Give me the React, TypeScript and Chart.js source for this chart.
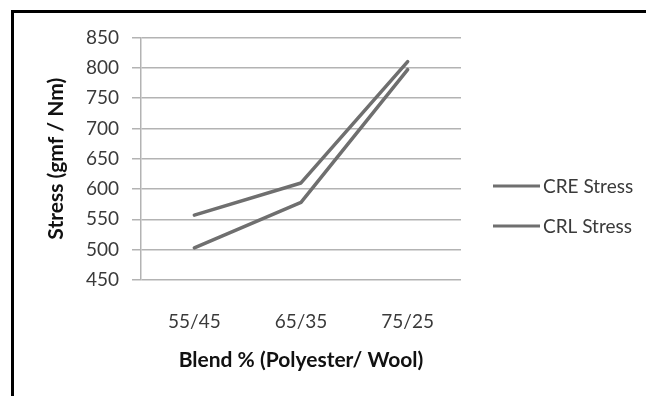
import React, { useEffect, useRef } from "react";
import { Chart, registerables } from "chart.js";

Chart.register(...registerables);

const categories = ["55/45", "65/35", "75/25"];
const creStress = [557, 610, 810];
const crlStress = [503, 578, 797];
const seriesNames = ["CRE Stress", "CRL Stress"];
const yTicks = [450, 500, 550, 600, 650, 700, 750, 800, 850];

const FONT = "Lato, 'Open Sans', sans-serif";
const LINE_COLOR = "#6f6f6f";
const GRID_COLOR = "#b3b3b3";

// Legend drawn to the right of the plot: short line sample followed by the label.
const sideLegend = {
  id: "sideLegend",
  afterDraw(chart: any) {
    const { ctx, chartArea } = chart;
    const x0 = chartArea.right + 32;
    const rows = [173, 213];
    ctx.save();
    chart.data.datasets.forEach((ds: any, i: number) => {
      const y = rows[i];
      ctx.strokeStyle = ds.borderColor;
      ctx.lineWidth = 3;
      ctx.lineCap = "butt";
      ctx.beginPath();
      ctx.moveTo(x0, y);
      ctx.lineTo(x0 + 47, y);
      ctx.stroke();
      ctx.fillStyle = "#3a3a3a";
      ctx.font = `19px ${FONT}`;
      ctx.textBaseline = "middle";
      ctx.textAlign = "left";
      ctx.fillText(ds.label, x0 + 50, y + 1);
    });
    ctx.restore();
  },
};

export default function App() {
  const canvasRef = useRef<HTMLCanvasElement | null>(null);

  useEffect(() => {
    const canvas = canvasRef.current;
    if (!canvas) return;
    const chart = new Chart(canvas, {
      type: "line",
      data: {
        labels: categories,
        datasets: [
          {
            label: seriesNames[0],
            data: creStress,
            borderColor: LINE_COLOR,
            backgroundColor: LINE_COLOR,
            borderWidth: 3.5,
            pointRadius: 0,
            borderCapStyle: "round",
            borderJoinStyle: "round",
            tension: 0,
          },
          {
            label: seriesNames[1],
            data: crlStress,
            borderColor: LINE_COLOR,
            backgroundColor: LINE_COLOR,
            borderWidth: 3.5,
            pointRadius: 0,
            borderCapStyle: "round",
            borderJoinStyle: "round",
            tension: 0,
          },
        ],
      },
      options: {
        animation: false,
        responsive: false,
        maintainAspectRatio: false,
        layout: { padding: { top: 22, right: 185, left: 0, bottom: 0 } },
        plugins: {
          legend: { display: false },
          tooltip: { enabled: false },
        },
        scales: {
          x: {
            offset: true,
            grid: { display: false },
            border: { display: false },
            ticks: {
              color: "#3a3a3a",
              font: { family: FONT, size: 19 },
              padding: 22,
              maxRotation: 0,
            },
            title: {
              display: true,
              text: "Blend % (Polyester/ Wool)",
              color: "#111",
              font: { family: FONT, size: 21, weight: "bold" },
              padding: { top: 0, bottom: 23 },
            },
            afterFit(scale: any) {
              scale.height = 116;
            },
          },
          y: {
            min: yTicks[0],
            max: yTicks[yTicks.length - 1],
            afterBuildTicks(scale: any) {
              scale.ticks = yTicks.map((v) => ({ value: v }));
            },
            grid: {
              color: GRID_COLOR,
              lineWidth: 1.5,
              tickLength: 9,
              drawTicks: true,
            },
            border: { display: true, color: GRID_COLOR, width: 1.5 },
            ticks: {
              color: "#3a3a3a",
              font: { family: FONT, size: 19 },
              padding: 13,
            },
            title: {
              display: true,
              text: "Stress (gmf / Nm)",
              color: "#111",
              font: { family: FONT, size: 21, weight: "bold" },
              padding: { top: 30, bottom: 0 },
            },
            afterFit(scale: any) {
              scale.width = 127;
            },
          },
        },
      },
      plugins: [sideLegend],
    });
    return () => chart.destroy();
  }, []);

  return (
    <div
      style={{
        position: "absolute",
        left: 11,
        top: 10,
        width: 635,
        height: 386,
        borderTop: "3px solid #000",
        borderLeft: "3px solid #000",
        background: "#fff",
      }}
    >
      <canvas ref={canvasRef} width={632} height={383} style={{ display: "block" }} />
    </div>
  );
}
